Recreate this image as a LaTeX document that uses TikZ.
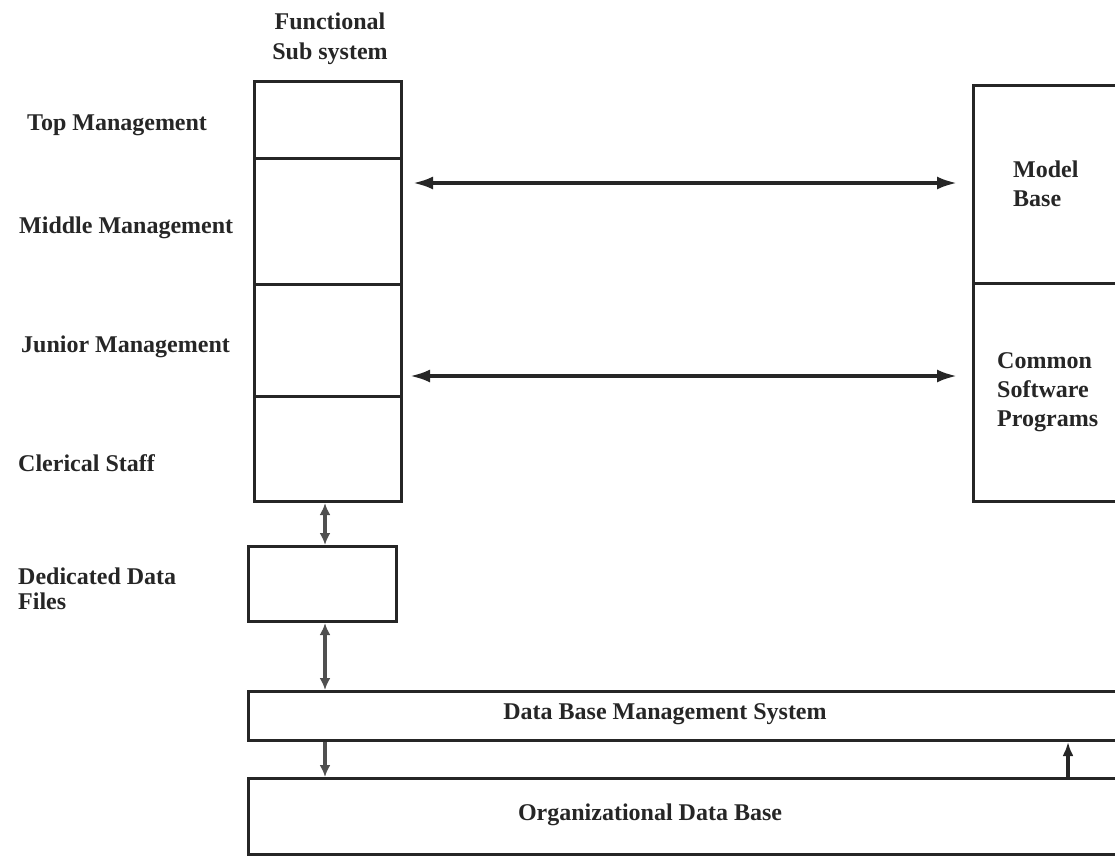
\documentclass[tikz,border=0pt]{standalone}
\usepackage{fontspec}
\setmainfont{Liberation Serif}
\usetikzlibrary{arrows.meta,calc}
\definecolor{ink}{HTML}{262626}
\definecolor{greyink}{HTML}{505050}
\tikzset{
  box/.style={draw=ink, line width=3pt, rectangle, inner sep=0pt, anchor=north west},
  lbl/.style={font=\bfseries\fontsize{24}{29}\selectfont, text=ink, inner sep=0pt, align=left},
  clbl/.style={font=\bfseries\fontsize{24}{30}\selectfont, text=ink, inner sep=0pt, align=center},
  bigarr/.style={draw=ink, line width=3.4pt, {Latex[length=20pt,width=13pt]}-{Latex[length=20pt,width=13pt]}},
  smallarr/.style={draw=greyink, line width=3.4pt, {Latex[length=12pt,width=11pt]}-{Latex[length=12pt,width=11pt]}},
  downarr/.style={draw=greyink, line width=3.4pt, -{Latex[length=12pt,width=11pt]}},
  onearr/.style={draw=ink, line width=3.4pt, -{Latex[length=14pt,width=11pt]}},
}
\begin{document}
\begin{tikzpicture}[x=1pt,y=-1pt]
\useasboundingbox (0,0) rectangle (1115,857);

% functional subsystem column
\node[box, minimum width=147pt, minimum height=77pt] (top) at (253,80) {};
\node[box, minimum width=147pt, minimum height=126pt] (mid) at (253,157) {};
\node[box, minimum width=147pt, minimum height=112pt] (jun) at (253,283) {};
\node[box, minimum width=147pt, minimum height=105pt] (cler) at (253,395) {};
\node[clbl] (fs) at (330,39) {Functional\\Sub system};

% level labels
\node[lbl, anchor=west] (ltop) at (27,125) {Top Management};
\node[lbl, anchor=west] (lmid) at (19,228) {Middle Management};
\node[lbl, anchor=west] (ljun) at (21,347) {Junior Management};
\node[lbl, anchor=west] (lcler) at (18,463) {Clerical Staff};

% dedicated data files
\node[box, minimum width=148pt, minimum height=75pt] (ddf) at (247,545) {};
\node[lbl, anchor=west, font=\bfseries\fontsize{24}{25}\selectfont] (lddf) at (18,589) {Dedicated Data\\Files};

% right boxes
\node[box, minimum width=170pt, minimum height=198pt] (model) at (972,84) {};
\node[box, minimum width=170pt, minimum height=218pt] (csp) at (972,282) {};
\node[lbl, anchor=west] (lmodel) at (1013,184) {Model\\Base};
\node[lbl, anchor=west] (lcsp) at (997,392) {Common\\Software\\Programs};

% DBMS and organizational DB
\node[box, minimum width=900pt, minimum height=49pt] (dbms) at (247,690) {};
\node[box, minimum width=900pt, minimum height=76pt] (odb) at (247,777) {};
\node[clbl] (ldbms) at (665,714) {Data Base Management System};
\node[clbl] (lodb) at (650,815) {Organizational Data Base};

% horizontal arrows
\coordinate (a1l) at (413,183);
\coordinate (a1r) at (957,183);
\coordinate (a2l) at (410,376);
\coordinate (a2r) at (957,376);
\draw[bigarr] (a1l) -- (a1r);
\draw[bigarr] (a2l) -- (a2r);

% vertical arrows
\draw[smallarr] (cler.south -| 325,0) -- (ddf.north -| 325,0);
\draw[smallarr] (ddf.south -| 325,0) -- (dbms.north -| 325,0);
\draw[downarr] (dbms.south -| 325,0) -- (odb.north -| 325,0);
\draw[onearr] (odb.north -| 1068,0) -- (dbms.south -| 1068,0);
\end{tikzpicture}
\end{document}
